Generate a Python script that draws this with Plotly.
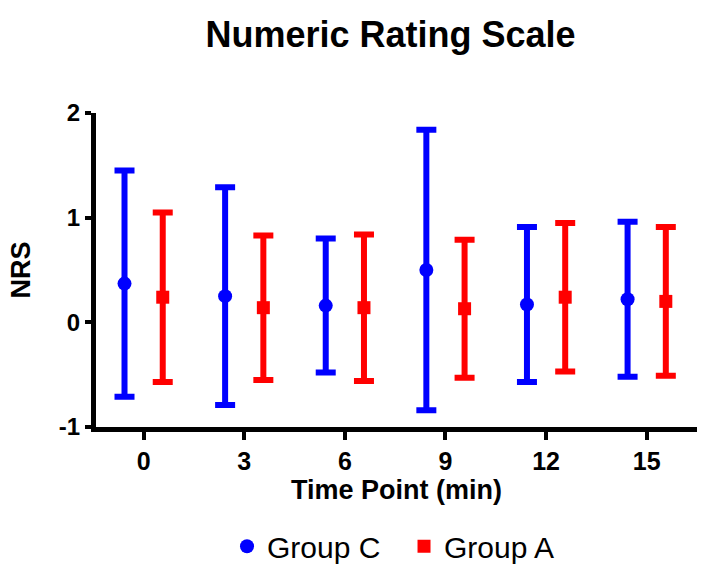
import plotly.graph_objects as go

time_points = [0, 3, 6, 9, 12, 15]
x_tick_labels = ["0", "3", "6", "9", "12", "15"]
y_tick_vals = [-1, 0, 1, 2]
y_tick_labels = ["-1", "0", "1", "2"]

group_c_mean = [0.37, 0.25, 0.16, 0.50, 0.17, 0.22]
group_c_sd = [1.08, 1.04, 0.64, 1.34, 0.74, 0.74]
group_a_mean = [0.24, 0.14, 0.14, 0.13, 0.24, 0.20]
group_a_sd = [0.81, 0.69, 0.70, 0.66, 0.71, 0.71]

offset = 0.57
fig = go.Figure()
fig.add_trace(go.Scatter(
    x=[t - offset for t in time_points], y=group_c_mean, mode="markers", name="Group C",
    marker=dict(symbol="circle", size=14, color="#0000ff"),
    error_y=dict(type="data", array=group_c_sd, symmetric=True, color="#0000ff", thickness=6, width=10),
))
fig.add_trace(go.Scatter(
    x=[t + offset for t in time_points], y=group_a_mean, mode="markers", name="Group A",
    marker=dict(symbol="square", size=13, color="#ff0000"),
    error_y=dict(type="data", array=group_a_sd, symmetric=True, color="#ff0000", thickness=6, width=10),
))

font_family = "Liberation Sans, Arial, sans-serif"
fig.update_layout(
    width=707, height=579,
    margin=dict(l=96, r=10, t=113, b=152, autoexpand=False),
    paper_bgcolor="white", plot_bgcolor="white",
    font=dict(family=font_family, color="black"),
    title=dict(text="<b>Numeric Rating Scale</b>", xref="paper", x=0.49, xanchor="center",
               yref="container", y=0.94, yanchor="middle",
               font=dict(size=36, family=font_family, color="black")),
    xaxis=dict(range=[-1.42, 16.5], tickvals=time_points, ticktext=[f"<b>{t}</b>" for t in x_tick_labels],
               showline=True, linecolor="black", linewidth=5, ticks="outside", ticklen=8, tickwidth=4,
               tickcolor="black", showgrid=False, zeroline=False, tickfont=dict(size=25),
               title=dict(text="<b>Time Point (min)</b>", font=dict(size=27), standoff=8)),
    yaxis=dict(range=[-1, 2], tickvals=y_tick_vals, ticktext=[f"<b>{t}</b>" for t in y_tick_labels],
               showline=True, linecolor="black", linewidth=5, ticks="outside", ticklen=6, tickwidth=4,
               tickcolor="black", showgrid=False, zeroline=False, tickfont=dict(size=24),
               title=dict(text="<b>NRS</b>", font=dict(size=27), standoff=22)),
    legend=dict(orientation="h", x=0.218, xanchor="left", y=-0.38, yanchor="middle",
                font=dict(size=30, family=font_family), itemwidth=30,
                entrywidth=132, entrywidthmode="pixels"),
    showlegend=True,
)
fig.write_html("out.html", config={"displayModeBar": False},
               post_script="document.body.style.margin='0';")
